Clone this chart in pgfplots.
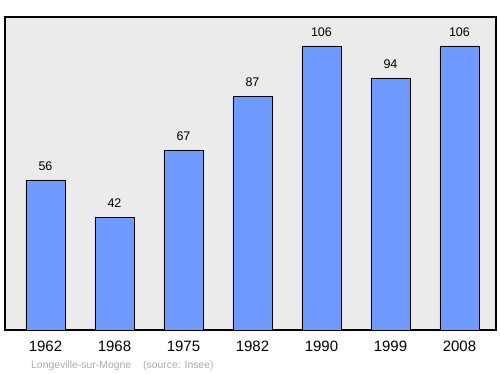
\documentclass[border=0pt]{standalone}
\usepackage{pgfplots}
\pgfplotsset{compat=1.18}
\usepackage{fontspec}
\setmainfont{Liberation Sans}
\definecolor{bg}{RGB}{235,235,235}
\definecolor{barblue}{RGB}{111,154,255}
\definecolor{foot}{RGB}{170,170,170}
\begin{document}
\begin{tikzpicture}[x=1pt,y=1pt]
\path (0,0) rectangle (500,374);
\begin{axis}[
  at={(5pt,44pt)}, anchor=south west,
  scale only axis, width=491pt, height=313pt,
  xmin=-0.587, xmax=6.53, ymin=0, ymax=116.8,
  axis background/.style={fill=bg},
  axis line style={black, line width=1.2pt},
  ytick=\empty,
  xtick={0,1,2,3,4,5,6},
  xticklabels={1962,1968,1975,1982,1990,1999,2008},
  major tick length=0pt,
  xticklabel style={font=\fontsize{15}{17}\selectfont, yshift=-7pt},
  nodes near coords,
  every node near coord/.append style={font=\fontsize{12.5}{14}\selectfont, black, yshift=6pt},
  /pgf/number format/assume math mode=true,
]
\addplot[ybar, bar width=39pt, fill=barblue, draw=black, line width=0.8pt]
  coordinates {(0,56) (1,42) (2,67) (3,87) (4,106) (5,94) (6,106)};
\end{axis}
\node[anchor=west, inner sep=0pt, text=foot, font=\fontsize{10.4}{12}\selectfont] at (31,8) {Longeville-sur-Mogne};
\node[anchor=west, inner sep=0pt, text=foot, font=\fontsize{10.4}{12}\selectfont] at (143,8) {(source: Insee)};
\end{tikzpicture}
\end{document}
